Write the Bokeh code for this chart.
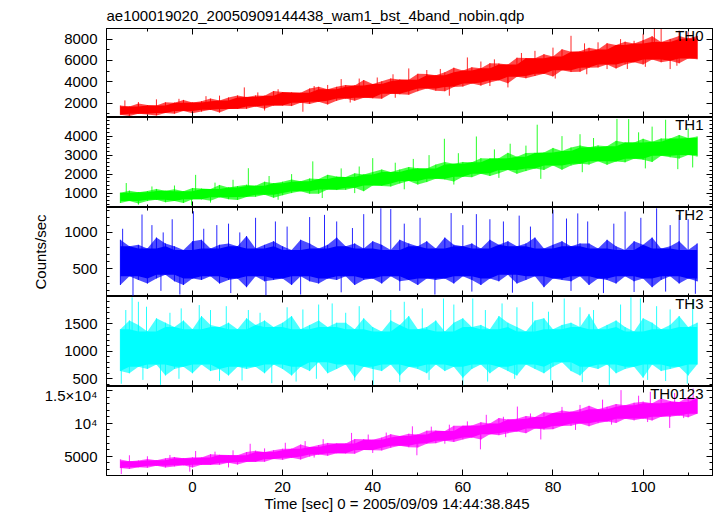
import numpy as np
from bokeh.plotting import figure
from bokeh.layouts import column
from bokeh.models import Range1d, LinearAxis, SingleIntervalTicker, FixedTicker, Label
from bokeh.embed import file_html
from bokeh.resources import INLINE

# ---------------- data ----------------
title_text = "ae100019020_20050909144438_wam1_bst_4band_nobin.qdp"
xlabel_text = "Time [sec] 0 = 2005/09/09 14:44:38.845"
ylabel_text = "Counts/sec"
band_names = ["TH0", "TH1", "TH2", "TH3", "TH0123"]

t = [-16, -14, -12, -10, -8, -6, -4, -2, 0, 2, 4, 6, 8, 10, 12, 14, 16, 18, 20, 22,
     24, 26, 28, 30, 32, 34, 36, 38, 40, 42, 44, 46, 48, 50, 52, 54, 56, 58, 60, 62,
     64, 66, 68, 70, 72, 74, 76, 78, 80, 82, 84, 86, 88, 90, 92, 94, 96, 98, 100, 102,
     104, 106, 108, 110, 112]

th0_hi = [1770, 1680, 1950, 1810, 1780, 2070, 2040, 2300, 2060, 2180, 2420, 2240, 2530, 2720, 2580,
          2720, 2690, 3130, 3040, 3010, 2970, 3370, 3530, 3300, 3530, 3690, 3660, 4160, 3780, 4040,
          4310, 4210, 4190, 4750, 4720, 4610, 4890, 5320, 5060, 5360, 5270, 5740, 5720, 5620, 6260,
          6230, 6200, 6590, 6370, 7050, 6820, 6860, 7180, 7030, 7620, 7450, 7760, 7580, 7900, 8270,
          7740, 8020, 8290, 8060, 8300]
th0_lo = [910, 800, 1010, 940, 840, 1070, 1010, 1250, 1040, 1200, 1370, 1110, 1440, 1450, 1460,
          1690, 1470, 1770, 1770, 1720, 2040, 1920, 2120, 1870, 2210, 2420, 2230, 2510, 2450, 2410,
          2870, 2830, 2790, 3110, 3360, 3160, 3110, 3520, 3550, 3840, 3640, 3930, 4140, 3850, 4470,
          4330, 4540, 4740, 4500, 5070, 4910, 4930, 5320, 5340, 5630, 5250, 5630, 5830, 5630, 6080,
          5830, 5980, 5730, 6190, 6110]
th0_spike_t = [-15, -8, 3, 11.5, 19, 24.5, 33, 41, 48, 57, 61, 70, 76, 84, 92, 98, 102.5, 104, 106, 110,
               -12, -3, 6, 14.5, 27, 30, 37, 44.5, 52, 55, 64, 67, 73, 80, 87, 90, 95, 100, 108, 111,
               16, 35, 45, 66, 80.5, 87.5, 96.5, 100.5, 107.5]
th0_spike_v = [2250, 2350, 2650, 3470, 3300, 1190, 4250, 4400, 5250, 2690, 6280, 3470, 6900, 8310,
               5190, 7840, 9000, 8940, 5190, 8700,
               2100, 2400, 2700, 3000, 3600, 3700, 4300, 4700, 5100, 5200, 5900, 6100, 6700, 7200,
               7600, 7700, 8000, 8500, 8800, 8200,
               1300, 2050, 2500, 3600, 4300, 4700, 5200, 5400, 5500]

th1_hi = [1020, 1130, 1040, 1110, 1220, 1120, 1200, 1100, 1270, 1240, 1210, 1430, 1300, 1370, 1440,
          1390, 1600, 1520, 1600, 1710, 1620, 1770, 1740, 1960, 1870, 1850, 2040, 1980, 2110, 2240,
          2110, 2240, 2370, 2310, 2290, 2500, 2640, 2540, 2640, 2620, 2840, 2820, 2840, 3120, 2920,
          3110, 3120, 3140, 3380, 3210, 3400, 3500, 3410, 3510, 3470, 3750, 3660, 3660, 3860, 3700,
          3880, 3870, 4060, 3900, 3980]
th1_lo = [480, 580, 450, 580, 650, 520, 590, 480, 670, 670, 600, 780, 680, 640, 800,
          810, 910, 760, 890, 1000, 1100, 970, 970, 1190, 1160, 1170, 1280, 1100, 1400, 1380,
          1350, 1510, 1640, 1450, 1580, 1750, 1720, 1610, 1860, 1840, 2020, 1900, 2040, 2220, 2020,
          2160, 2300, 2220, 2450, 2230, 2450, 2540, 2500, 2680, 2490, 2670, 2620, 2810, 2750, 2640,
          2960, 2890, 2820, 3000, 2930]
th1_spike_t = [-14.7, -12, -0.2, 0.7, 12.4, 26.7, 28.8, 40, 55.9, 63, 76.5, 77.3, 94.2, 96.8, 105, 107.7, 111,
               -9, -4, 5, 9, 17, 22, 33, 37, 45, 49, 52.5, 59, 67, 70.5, 74, 82, 86, 89, 99, 102, 110,
               4, 19, 36, 47, 58, 68, 86.5, 100.5]
th1_spike_v = [1530, 390, 350, 1960, 2310, 2670, 740, 2840, 3860, 3980, 4600, 1750, 4910, 4900, 4860, 2260, 2350,
               1350, 1400, 1550, 1700, 1900, 2000, 2300, 2400, 2600, 2800, 3000, 3100, 3300, 3600, 3500,
               4000, 4100, 3900, 4200, 4500, 4400,
               500, 650, 1000, 1200, 1450, 1800, 2100, 2300]

th2_hi = [900, 810, 830, 780, 930, 850, 810, 760, 880, 900, 780, 830, 850, 810, 950,
          780, 830, 880, 810, 760, 900, 850, 780, 830, 930, 810, 850, 780, 880, 830,
          760, 900, 850, 810, 880, 780, 930, 830, 810, 850, 780, 900, 830, 880, 810,
          850, 930, 780, 830, 880, 810, 850, 850, 780, 900, 810, 760, 880, 830, 930,
          780, 810, 880, 760, 850]
th2_lo = [280, 400, 350, 300, 370, 420, 330, 280, 370, 350, 400, 300, 350, 370, 250,
          400, 330, 350, 370, 280, 400, 330, 300, 370, 350, 400, 280, 350, 370, 300,
          400, 330, 350, 280, 370, 350, 370, 300, 400, 350, 280, 370, 330, 420, 300,
          350, 400, 250, 370, 350, 330, 400, 280, 370, 350, 300, 400, 330, 370, 250,
          350, 400, 300, 370, 330]
th2_spike_t = [-13.2, -11.2, -2.8, 0.2, 5.4, 16.3, 18.4, 24, 29.3, 41.8, 44, 53.8, 57.4, 66, 80,
               87.7, 91.2, 96, 103, 108, 111.6,
               -15.5, -9, -6.5, -4.5, 2.5, 8, 10.5, 14, 21, 26, 32, 35.5, 38, 47, 50.5, 60, 63, 69,
               72.5, 75, 83, 85.5, 93.5, 99.5, 106, 110,
               -7, 8.5, 33, 46, 62, 71, 84, 98, 105]
th2_spike_v = [130, 1245, 150, 1290, 1100, 140, 1150, 150, 1240, 1330, 1320, 150, 1265, 1180, 1310,
               1150, 170, 1285, 1330, 1240, 160,
               1050, 1100, 1000, 1180, 1050, 1120, 1000, 1200, 1080, 1210, 1150, 1060, 1250, 1120,
               1200, 1100, 1250, 1150, 1230, 1080, 1190, 1260, 1120, 1200, 1100, 1180,
               200, 170, 180, 200, 190, 175, 200, 185, 190]

th3_hi = [1400, 1560, 1480, 1360, 1600, 1520, 1440, 1560, 1400, 1640, 1480, 1440, 1520, 1400, 1600,
          1480, 1560, 1440, 1520, 1640, 1400, 1480, 1560, 1440, 1520, 1520, 1400, 1600, 1440, 1360,
          1560, 1480, 1640, 1400, 1440, 1560, 1360, 1520, 1600, 1440, 1480, 1400, 1640, 1520, 1440,
          1360, 1560, 1600, 1400, 1480, 1520, 1440, 1680, 1400, 1480, 1560, 1440, 1360, 1600, 1520,
          1400, 1480, 1640, 1440, 1520]
th3_lo = [640, 600, 720, 680, 760, 560, 680, 720, 600, 760, 640, 680, 560, 720, 680,
          720, 600, 760, 680, 560, 720, 640, 800, 600, 680, 760, 520, 720, 680, 640,
          760, 560, 720, 680, 600, 760, 640, 720, 520, 680, 760, 600, 720, 640, 560,
          760, 680, 600, 720, 800, 640, 560, 720, 680, 760, 600, 680, 720, 520, 760,
          640, 680, 720, 560, 760]
th3_spike_t = [-15.8, -13.4, -10.2, -7.1, 1.5, 12.4, 17.6, 31, 40.1, 55.7, 60, 62.2, 68.7, 82.5,
               92.5, 97.3, 99.4, 109.8,
               -14.8, -12, -5, -2.5, 4, 7.5, 15, 21, 24.5, 28, 34, 37, 44, 47, 51, 58, 65, 72, 75.5,
               79, 86, 89, 95, 103, 106, 111,
               -11, -3, 6, 11, 23, 27.5, 36, 46, 52.5, 65.5, 71.5, 79.5, 86.5, 101, 105]
th3_spike_v = [410, 1980, 1810, 390, 1840, 1750, 420, 1870, 390, 1960, 380, 1960, 1870, 1960,
               390, 1980, 1960, 410,
               1750, 1900, 1700, 1780, 1750, 1820, 1700, 1800, 1760, 1850, 1700, 1820, 1750, 1900,
               1780, 1850, 1750, 1800, 1900, 1720, 1800, 1750, 1850, 1820, 1760, 1950,
               480, 500, 460, 470, 450, 500, 470, 440, 480, 450, 500, 470, 440, 480, 460]

th0123_hi = [4520, 4250, 4370, 4600, 4380, 4690, 4890, 4710, 4840, 4810, 5310, 5220, 5180, 5140, 5640,
             5850, 5630, 5920, 6140, 6150, 6780, 6390, 6710, 7030, 6950, 6940, 7610, 7600, 7500, 7840,
             8360, 8070, 8420, 8300, 8890, 8910, 8830, 9630, 9640, 9660, 10170, 9970, 10810, 10600, 10690,
             11100, 10960, 11700, 11560, 11950, 11770, 12160, 12670, 12140, 12530, 12930, 12740, 13140,
             13300, 13040, 13780, 13390, 13240, 13990, 13800]
th0123_lo = [3200, 3070, 3330, 3260, 3540, 3290, 3460, 3630, 3300, 3700, 3710, 3720, 4010, 3740, 4140,
             4180, 4160, 4570, 4460, 4760, 4500, 4950, 5250, 5070, 5450, 5420, 5390, 5960, 5920, 5880,
             6290, 6610, 6380, 6330, 6900, 6990, 7370, 7170, 7560, 7850, 7530, 8330, 8210, 8500, 8770,
             8510, 9220, 9060, 9120, 9590, 9620, 9980, 9550, 10030, 10290, 10070, 10690, 10460, 10720,
             10440, 11020, 10990, 11200, 10910, 11460]
th0123_spike_t = [-15.8, -14, -0.6, 0.7, 12.8, 20.6, 35.3, 48.8, 49.8, 63.9, 65.2, 72.1, 77.3,
                  95.1, 101.6, 105.9, 111.1,
                  -10, -5, 5, 9, 16, 25, 29, 39, 43, 53, 57, 61, 69, 75, 82, 86, 91, 99, 107,
                  8, 27, 40, 56, 69.5, 85, 93, 101, 109]
th0123_spike_v = [2300, 5150, 2650, 5800, 6900, 7050, 8550, 9550, 5150, 6050, 11300, 12550, 7550,
                  15050, 14800, 9300, 15300,
                  5000, 5200, 5700, 5900, 6200, 7300, 7600, 8300, 8600, 9500, 9800, 10300, 11000,
                  11500, 12500, 12800, 13600, 14200, 14600,
                  3300, 4800, 5500, 6900, 7900, 9000, 9800, 10200, 10800]

x_limits = (-19.08, 115.4)
x_major_step, x_minor_step = 20, 10
y_limits = [(648, 8995), (242, 4980), (123, 1341), (360, 1996), (2076, 15600)]
y_major = [2000, 1000, 500, 500, 5000]
y_minor_n = [2, 5, 5, 5, 5]
label_overrides = [{}, {}, {}, {}, {15000: "1.5×10⁴", 10000: "10⁴"}]
colors = ["#ff0000", "#00ff00", "#0000ff", "#00ffff", "#ff00ff"]

series = [
    (th0_lo, th0_hi, th0_spike_t, th0_spike_v),
    (th1_lo, th1_hi, th1_spike_t, th1_spike_v),
    (th2_lo, th2_hi, th2_spike_t, th2_spike_v),
    (th3_lo, th3_hi, th3_spike_t, th3_spike_v),
    (th0123_lo, th0123_hi, th0123_spike_t, th0123_spike_v),
]

# ---------------- layout / style ----------------
FONT = "Liberation Sans"
FS = "15px"
frame_heights = [89, 90, 89, 90, 89]
FRAME_W = 606
LEFT = 106
MAJ_LEN, MIN_LEN = 6, 3


def positions(lo, hi, step):
    start = np.ceil(lo / step) * step
    return [float(v) for v in np.arange(start, hi, step)]


def split_ticks(lo, hi, major, minor):
    maj = positions(lo, hi, major)
    allt = positions(lo, hi, minor)
    mnr = [v for v in allt if min(abs(v - m) for m in maj) > 1e-6] if maj else allt
    return maj, mnr


def bare_axes(p, side, maj, mnr):
    # tick-only axes (no labels): one for long ticks, one for short ticks
    for ticks, length in ((maj, MAJ_LEN), (mnr, MIN_LEN)):
        ax = LinearAxis(ticker=FixedTicker(ticks=[], minor_ticks=ticks),
                        axis_line_color="black", major_tick_in=0, major_tick_out=0,
                        minor_tick_in=length, minor_tick_out=0,
                        minor_tick_line_color="black", major_label_standoff=0)
        p.add_layout(ax, side)


def label_axis(p, side, major, n_minor, overrides):
    ax = LinearAxis(ticker=SingleIntervalTicker(interval=major, num_minor_ticks=n_minor),
                    axis_line_color="black", major_tick_in=MAJ_LEN, major_tick_out=0,
                    minor_tick_in=MIN_LEN, minor_tick_out=0,
                    major_tick_line_color="black", minor_tick_line_color="black",
                    major_label_text_font=FONT, major_label_text_font_size=FS,
                    major_label_text_color="black", major_label_overrides=overrides)
    p.add_layout(ax, side)
    return ax


def rolling(arr, fn):
    a = np.asarray(arr, dtype=float)
    padded = np.concatenate([a[:1], a, a[-1:]])
    return fn(np.vstack([padded[:-2], padded[1:-1], padded[2:]]), axis=0)


figs = []
tarr = np.array(t, dtype=float)
xmaj, xmin = split_ticks(x_limits[0], x_limits[1], x_major_step, x_minor_step)
for k in range(5):
    first, last = k == 0, k == 4
    lo, hi, st, sv = series[k]
    lo = np.array(lo, dtype=float)
    hi = np.array(hi, dtype=float)
    p = figure(frame_width=FRAME_W, frame_height=frame_heights[k],
               x_range=Range1d(*x_limits), y_range=Range1d(*y_limits[k]),
               output_backend="svg", toolbar_location=None,
               x_axis_location=None, y_axis_location=None,
               min_border_left=LEFT, min_border_right=2,
               min_border_top=28 if first else 0,
               min_border_bottom=40 if last else 0)
    p.outline_line_color = "black"
    p.outline_line_width = 1
    p.grid.visible = False
    p.background_fill_color = "white"
    p.border_fill_color = "white"

    if first:
        p.title.text = title_text
        p.title.text_font = FONT
        p.title.text_font_size = FS
        p.title.text_font_style = "normal"
        p.title.text_color = "black"
        p.title.align = "left"
        p.title.standoff = 9

    # x axes
    bare_axes(p, "above", xmaj, xmin)
    if last:
        ax = label_axis(p, "below", x_major_step, 2, {})
        ax.major_label_standoff = 6
        ax.axis_label = xlabel_text + "\u00a0" * 6
        ax.axis_label_text_font = FONT
        ax.axis_label_text_font_size = FS
        ax.axis_label_text_font_style = "normal"
        ax.axis_label_text_color = "black"
        ax.axis_label_standoff = 0
    else:
        bare_axes(p, "below", xmaj, xmin)

    # y axes
    ymaj, ymin = split_ticks(y_limits[k][0], y_limits[k][1], y_major[k], y_major[k] / y_minor_n[k])
    yl = label_axis(p, "left", y_major[k], y_minor_n[k], label_overrides[k])
    yl.major_label_standoff = 9
    if k == 2:
        yl.axis_label = ylabel_text
        yl.axis_label_text_font = FONT
        yl.axis_label_text_font_size = FS
        yl.axis_label_text_font_style = "normal"
        yl.axis_label_text_color = "black"
        yl.axis_label_standoff = 12
    bare_axes(p, "right", ymaj, ymin)

    c = colors[k]
    core_hi = rolling(hi, np.min)
    core_lo = rolling(lo, np.max)
    p.varea(x=tarr, y1=lo, y2=hi, fill_color=c, fill_alpha=0.7)
    p.varea(x=tarr, y1=core_lo, y2=core_hi, fill_color=c, fill_alpha=1.0)
    p.segment(x0=tarr, y0=lo, x1=tarr, y1=hi, line_color=c, line_width=1, line_alpha=0.9)
    mid = np.interp(st, tarr, (lo + hi) / 2.0)
    p.segment(x0=st, y0=mid, x1=st, y1=sv, line_color=c, line_width=1, line_alpha=0.85)

    p.add_layout(Label(x=597, y=frame_heights[k] - 7, x_units="screen", y_units="screen",
                       text=band_names[k], text_align="right", text_baseline="alphabetic",
                       text_font=FONT, text_font_size=FS, text_color="black"))
    figs.append(p)

layout = column(*figs, spacing=0)
open("out.html", "w").write(file_html(layout, INLINE))
